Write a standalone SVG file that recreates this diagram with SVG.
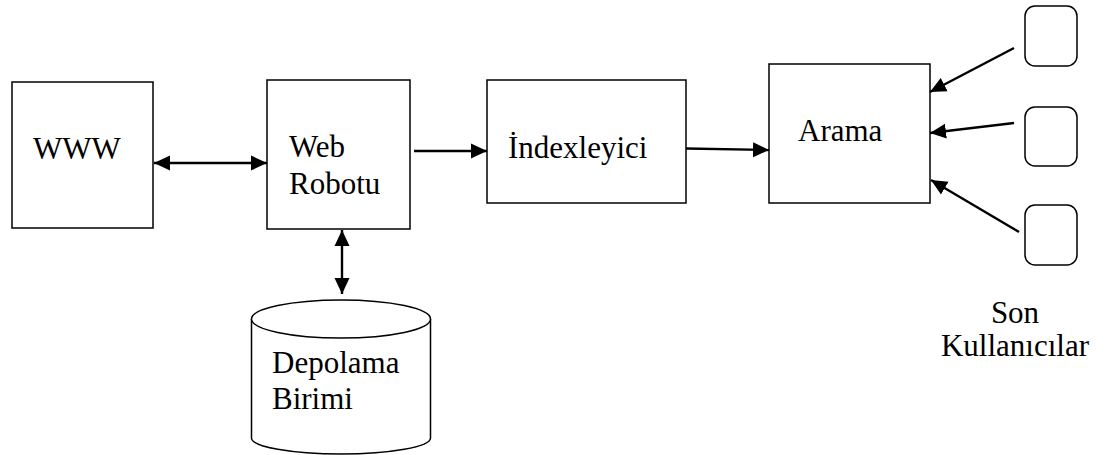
<svg xmlns="http://www.w3.org/2000/svg" width="1115" height="455" viewBox="0 0 1115 455">
<style>
.box{fill:#fff;stroke:#000;stroke-width:1.5}
.lbl{font-family:"Liberation Serif","Times New Roman",serif;font-size:31px;fill:#000}
.con{stroke:#000;stroke-width:2.4;fill:none}
</style>
<defs>
<marker id="ah" markerUnits="userSpaceOnUse" markerWidth="18" markerHeight="16" refX="16" refY="8" orient="auto-start-reverse">
<path d="M0,0.5 L16,8 L0,15.5 Z" fill="#000"/>
</marker>
</defs>
<rect width="1115" height="455" fill="#fff"/>
<g id="www"><rect class="box" x="12" y="82" width="141" height="146"/><text class="lbl" x="33" y="159">WWW</text></g>
<g id="webrobotu"><rect class="box" x="267" y="80" width="143" height="149"/><text class="lbl" x="289" y="157">Web</text><text class="lbl" x="289" y="194">Robotu</text></g>
<g id="indexleyici"><rect class="box" x="487" y="80" width="199" height="123"/><text class="lbl" x="508" y="158">İndexleyici</text></g>
<g id="arama"><rect class="box" x="769" y="64" width="161" height="139"/><text class="lbl" x="798" y="141">Arama</text></g>
<g id="depolama">
<path class="box" d="M251.5,319 L251.5,438 A89.5,16 0 0 0 430.5,438 L430.5,319"/>
<ellipse class="box" cx="341" cy="319" rx="89.5" ry="19"/>
<text class="lbl" x="272" y="373">Depolama</text><text class="lbl" x="272" y="409">Birimi</text>
</g>
<g id="user1"><rect class="box" x="1025" y="6" width="52" height="60" rx="10"/></g>
<g id="user2"><rect class="box" x="1025" y="107" width="52" height="59" rx="10"/></g>
<g id="user3"><rect class="box" x="1025" y="205" width="52" height="60" rx="10"/></g>
<g id="sonkullanicilar"><text class="lbl" x="1015" y="323" text-anchor="middle">Son</text><text class="lbl" x="1015" y="356" text-anchor="middle">Kullanıcılar</text></g>
<g id="connectors">
<line class="con" x1="154" y1="163" x2="267" y2="163" marker-start="url(#ah)" marker-end="url(#ah)"/>
<line class="con" x1="342" y1="230" x2="342" y2="294" marker-start="url(#ah)" marker-end="url(#ah)"/>
<line class="con" x1="414" y1="151" x2="487" y2="151" marker-end="url(#ah)"/>
<line class="con" x1="686" y1="148.5" x2="769" y2="150" marker-end="url(#ah)"/>
<line class="con" x1="1014" y1="48" x2="930" y2="92" marker-end="url(#ah)"/>
<line class="con" x1="1014" y1="123" x2="930" y2="133" marker-end="url(#ah)"/>
<line class="con" x1="1019" y1="232" x2="931" y2="180" marker-end="url(#ah)"/>
</g>
</svg>
